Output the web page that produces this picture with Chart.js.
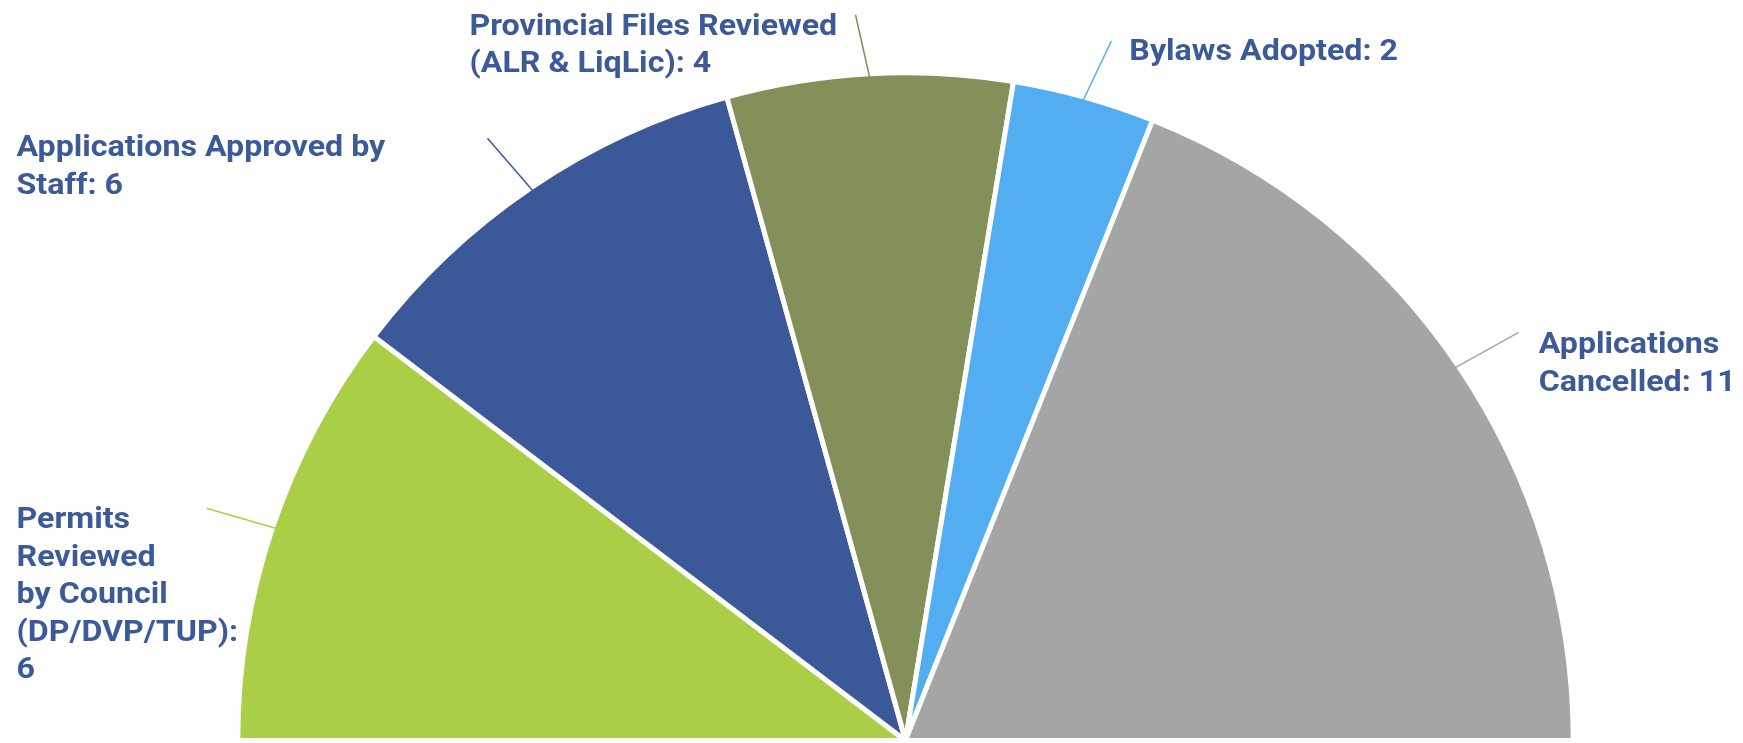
<!DOCTYPE html>
<html>
<head>
<meta charset="utf-8">
<script src="https://cdn.jsdelivr.net/npm/chart.js@4/dist/chart.umd.min.js"></script>
<style>
  html, body { margin: 0; padding: 0; background: #fff; overflow: hidden; }
  #wrap { position: relative; width: 1743px; height: 743px; }
</style>
</head>
<body>
<div id="wrap"><canvas id="myChart"></canvas></div>
<script>
"use strict";

// Category names, one entry per text line
const categories = [
  ["Permits", "Reviewed", "by Council", "(DP/DVP/TUP)"],
  ["Applications Approved by", "Staff"],
  ["Provincial Files Reviewed", "(ALR & LiqLic)"],
  ["Bylaws Adopted"],
  ["Applications", "Cancelled"]
];
const counts = [6, 6, 4, 2, 11];
const sliceColors = ["#AACE46", "#3B5998", "#83905A", "#52ADF1", "#A5A5A5"];

// Label layout: value on its own line, leader vector from the arc edge,
// text offset (left, first baseline) from the leader end
const valueOnNewLine = [true, false, false, false, false];
const leaderVec = [[-69, -20], [-45, -52], [-14, -62], [28, -59], [63, -35]];
const textOffset = [[-190, 20], [-471, 18], [-386, 20], [18, 19], [20, 21]];

const LABEL_COLOR = "#3C5A98";
const LABEL_FONT = "bold 29px Roboto";
const LABEL_STRETCH = 1.11; // labels are set a little wide
const LINE_HEIGHT = 37.5;

function labelLines(i) {
  const lines = categories[i].slice();
  const last = lines.length - 1;
  if (valueOnNewLine[i]) {
    lines[last] += ":";
    lines.push(String(counts[i]));
  } else {
    lines[last] += ": " + counts[i];
  }
  return lines;
}

// Draws leader lines and the category/value labels around the half pie
const calloutLabels = {
  id: "calloutLabels",
  afterDatasetsDraw(chart) {
    const ctx = chart.ctx;
    const arcs = chart.getDatasetMeta(0).data;
    arcs.forEach((arc, i) => {
      const { x, y, startAngle, endAngle, outerRadius } =
        arc.getProps(["x", "y", "startAngle", "endAngle", "outerRadius"], true);
      const mid = (startAngle + endAngle) / 2;
      const sx = x + Math.cos(mid) * (outerRadius - 3);
      const sy = y + Math.sin(mid) * (outerRadius - 3);
      const ex = sx + leaderVec[i][0];
      const ey = sy + leaderVec[i][1];

      ctx.save();
      ctx.strokeStyle = sliceColors[i];
      ctx.lineWidth = 1.5;
      ctx.beginPath();
      ctx.moveTo(sx, sy);
      ctx.lineTo(ex, ey);
      ctx.stroke();

      ctx.fillStyle = LABEL_COLOR;
      ctx.font = LABEL_FONT;
      ctx.textAlign = "left";
      ctx.textBaseline = "alphabetic";
      ctx.translate(ex + textOffset[i][0], ey + textOffset[i][1]);
      ctx.scale(LABEL_STRETCH, 1);
      labelLines(i).forEach((line, k) => {
        ctx.fillText(line, 0, k * LINE_HEIGHT);
      });
      ctx.restore();
    });
  }
};

const data = {
  labels: categories.map(c => c.join(" ")),
  datasets: [
    {
      data: counts,
      backgroundColor: sliceColors,
      borderColor: "#ffffff",
      borderWidth: 5,
      hoverOffset: 0,
    },
  ],
};

const config = {
  type: "pie",
  data: data,
  options: {
    responsive: true,
    maintainAspectRatio: false,
    animation: false,
    rotation: -90, // start at nine o'clock
    circumference: 180, // upper half only
    layout: {
      // centre sits on the bottom edge, so the area runs a little past it
      padding: { left: 232, right: 164, top: 70.25, bottom: -3.75 },
    },
    plugins: {
      legend: { display: false },
      tooltip: { enabled: false },
    },
    events: [],
  },
  plugins: [calloutLabels],
};

document.fonts.load(LABEL_FONT).then(() => {
  new Chart(document.getElementById("myChart"), config);
});
</script>
</body>
</html>
